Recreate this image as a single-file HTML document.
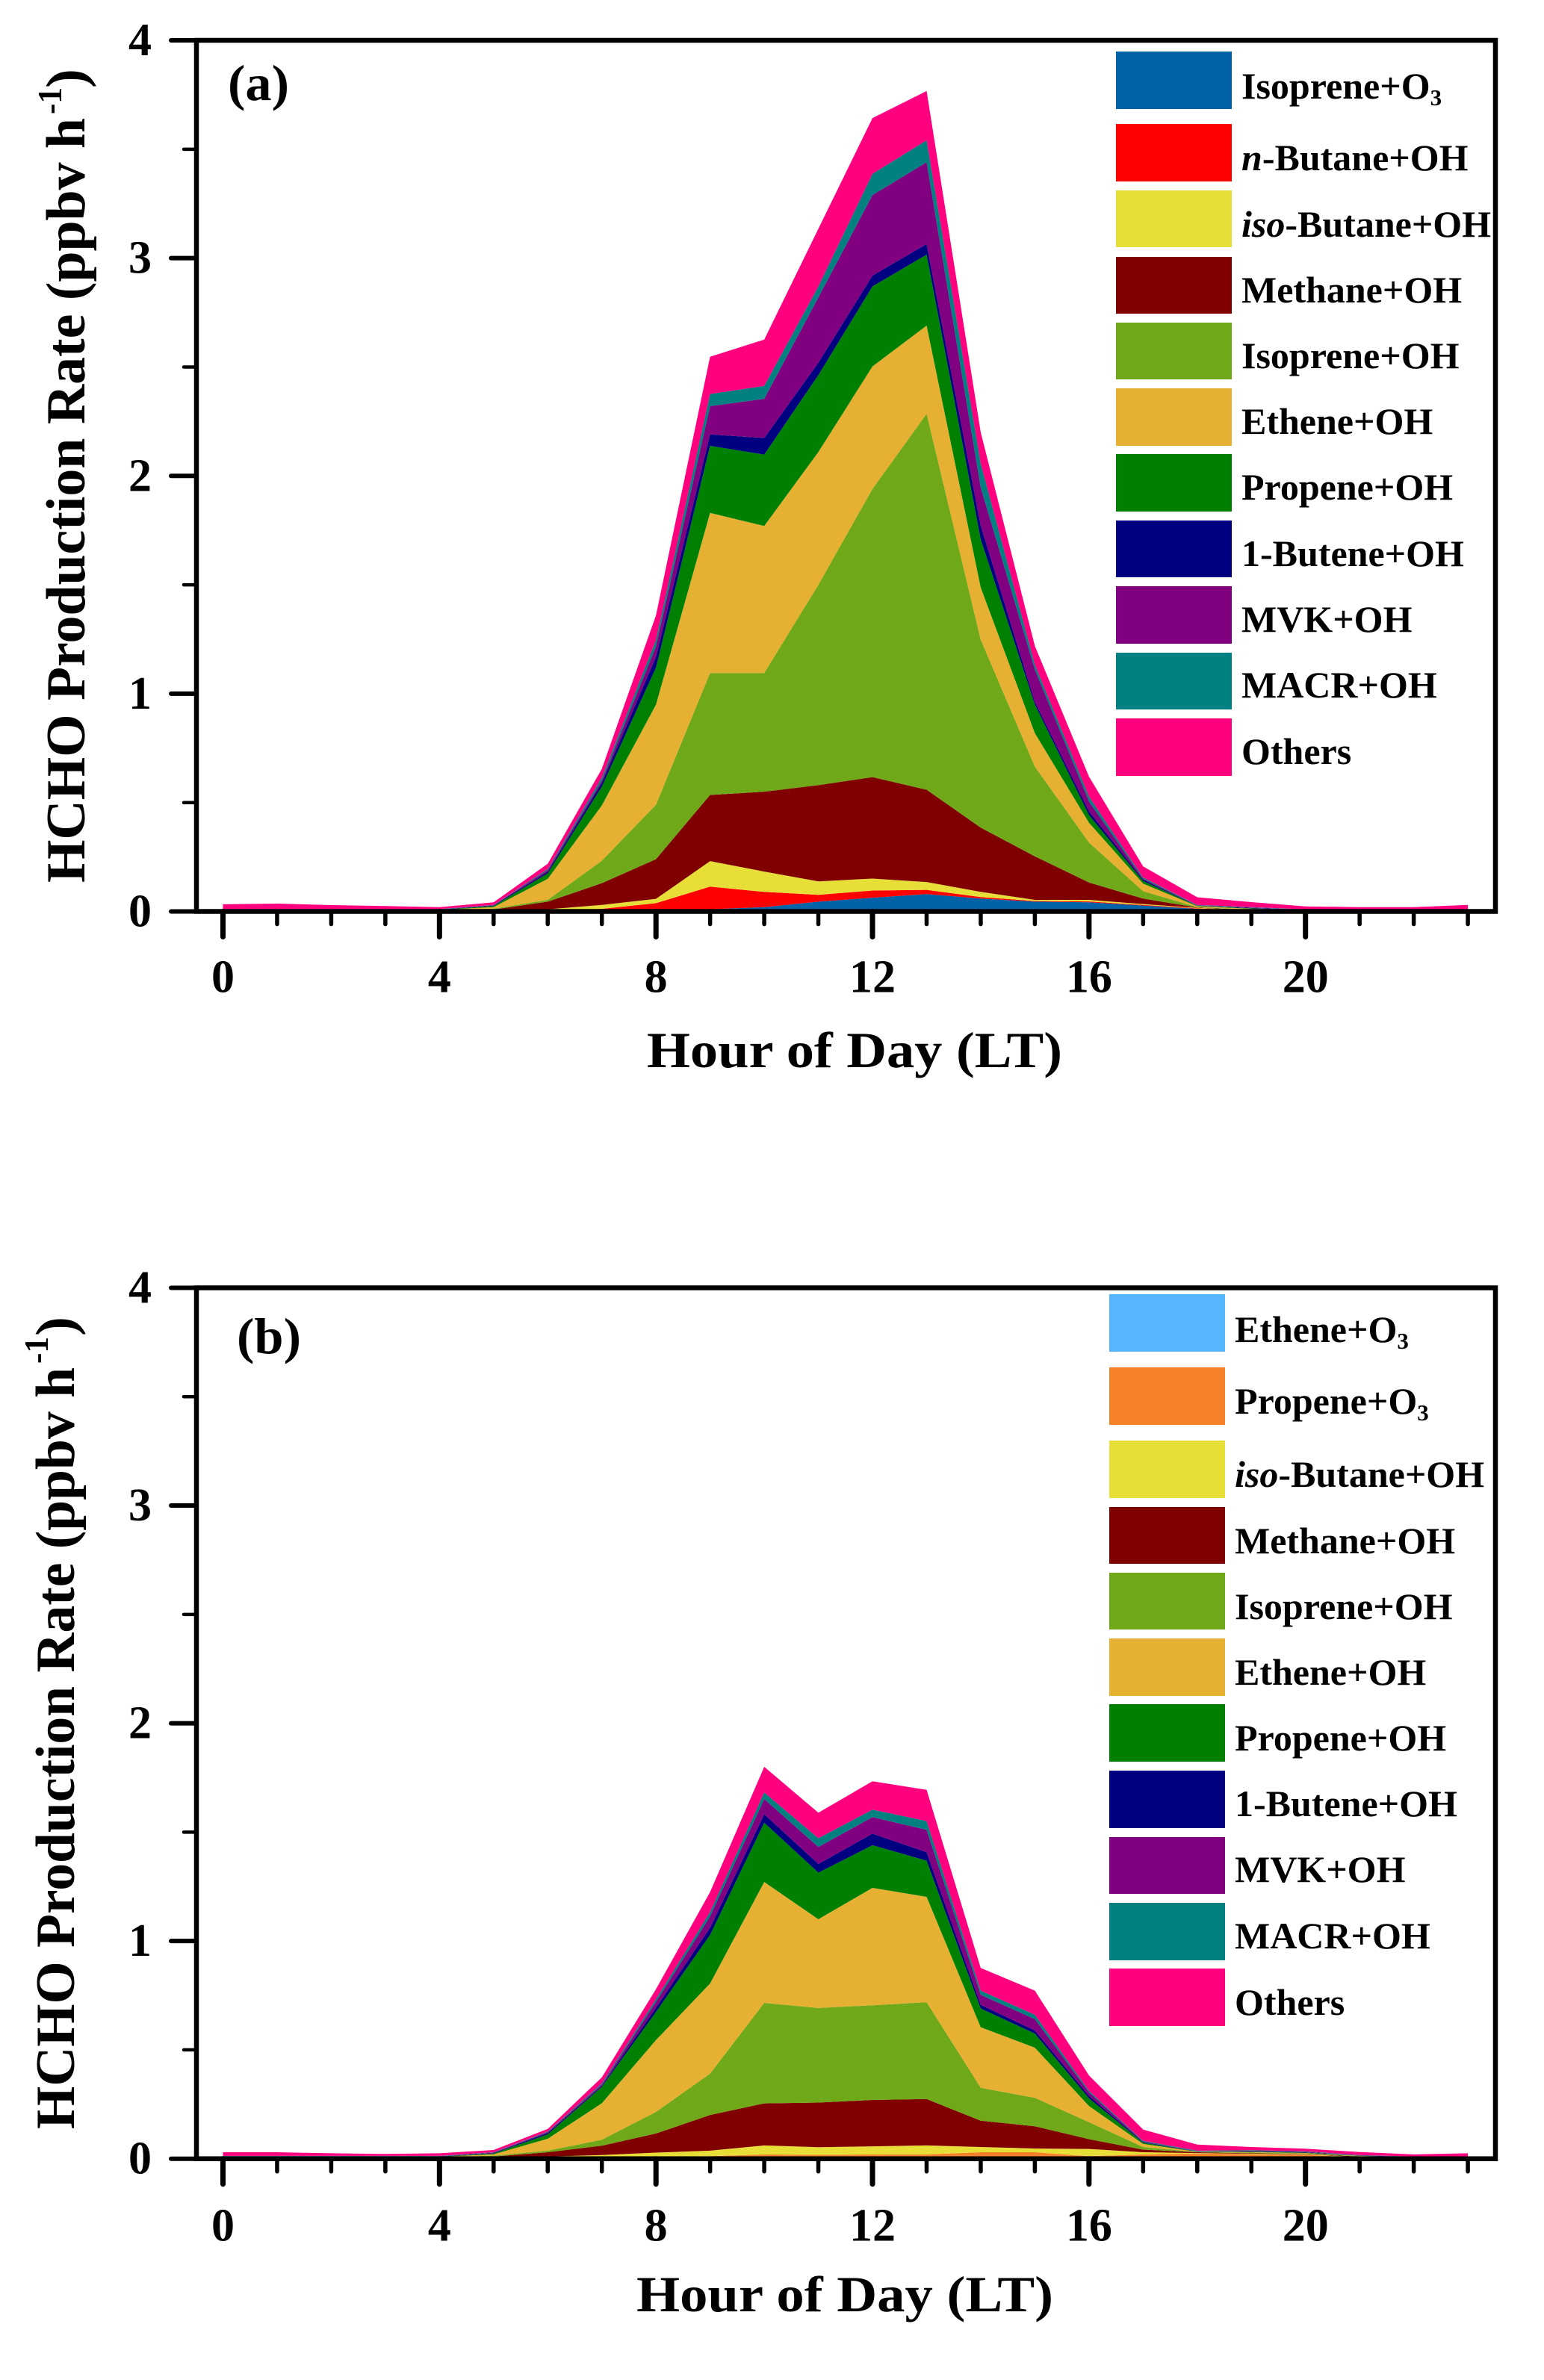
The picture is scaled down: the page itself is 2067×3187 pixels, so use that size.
<!DOCTYPE html>
<html lang="en">
<head>
<meta charset="utf-8">
<title>HCHO Production Rate</title>
<style>
html,body{margin:0;padding:0;background:#fff;}
svg{display:block;}
text{font-family:"Liberation Serif",serif;font-weight:bold;fill:#000;}
.lg{font-size:50px;}
.sub{font-size:31px;}
.it{font-style:italic;}
</style>
</head>
<body>
<svg id="figure" xmlns="http://www.w3.org/2000/svg" width="2067" height="3187" viewBox="0 0 2067 3187">
<rect x="0" y="0" width="2067" height="3187" fill="#fff"/>
<g id="panel-a"></g>
<g id="panel-b"></g>

<g>
<text x="305" y="134" font-size="68" textLength="82" lengthAdjust="spacingAndGlyphs">(a)</text>
<text x="866" y="1429" font-size="68" textLength="556" lengthAdjust="spacingAndGlyphs">Hour of Day (LT)</text>
<text transform="translate(113,1182) rotate(-90)" font-size="74" textLength="1024" lengthAdjust="spacingAndGlyphs">HCHO Production Rate (ppbv h</text>
<text transform="translate(82,153) rotate(-90)" font-size="46" textLength="36" lengthAdjust="spacingAndGlyphs">-1</text>
<text transform="translate(113,118) rotate(-90)" font-size="74" textLength="26" lengthAdjust="spacingAndGlyphs">)</text>
</g>

<g>
<g><rect x="1494" y="69" width="155" height="77" fill="#0063A8"/><text class="lg" x="1662" y="132">Isoprene+O<tspan class="sub" dy="9">3</tspan></text></g>
<g><rect x="1494" y="166" width="155" height="77" fill="#FF0000"/><text class="lg" x="1662" y="228"><tspan class="it">n</tspan>-Butane+OH</text></g>
<g><rect x="1494" y="255" width="155" height="76" fill="#E8DE38"/><text class="lg" x="1662" y="317"><tspan class="it">iso</tspan>-Butane+OH</text></g>
<g><rect x="1494" y="344" width="155" height="76" fill="#800000"/><text class="lg" x="1662" y="405">Methane+OH</text></g>
<g><rect x="1494" y="432" width="155" height="76" fill="#6FA818"/><text class="lg" x="1662" y="493">Isoprene+OH</text></g>
<g><rect x="1494" y="520" width="155" height="77" fill="#E6B033"/><text class="lg" x="1662" y="581">Ethene+OH</text></g>
<g><rect x="1494" y="608" width="155" height="77" fill="#008000"/><text class="lg" x="1662" y="669">Propene+OH</text></g>
<g><rect x="1494" y="697" width="155" height="76" fill="#000080"/><text class="lg" x="1662" y="758">1-Butene+OH</text></g>
<g><rect x="1494" y="785" width="155" height="77" fill="#800080"/><text class="lg" x="1662" y="846">MVK+OH</text></g>
<g><rect x="1494" y="874" width="155" height="76" fill="#008080"/><text class="lg" x="1662" y="934">MACR+OH</text></g>
<g><rect x="1494" y="962" width="155" height="77" fill="#FF007F"/><text class="lg" x="1662" y="1023">Others</text></g>
</g>

<g>
<text x="317" y="1812" font-size="68" textLength="86" lengthAdjust="spacingAndGlyphs">(b)</text>
<text x="852" y="3095" font-size="68" textLength="558" lengthAdjust="spacingAndGlyphs">Hour of Day (LT)</text>
<text transform="translate(99,2851) rotate(-90)" font-size="74" textLength="1020" lengthAdjust="spacingAndGlyphs">HCHO Production Rate (ppbv h</text>
<text transform="translate(64,1826) rotate(-90)" font-size="46" textLength="36" lengthAdjust="spacingAndGlyphs">-1</text>
<text transform="translate(99,1789) rotate(-90)" font-size="74" textLength="26" lengthAdjust="spacingAndGlyphs">)</text>
</g>

<g>
<g><rect x="1485" y="1733" width="155" height="77" fill="#55B5FF"/><text class="lg" x="1653" y="1797">Ethene+O<tspan class="sub" dy="9">3</tspan></text></g>
<g><rect x="1485" y="1831" width="155" height="77" fill="#F58228"/><text class="lg" x="1653" y="1893">Propene+O<tspan class="sub" dy="9">3</tspan></text></g>
<g><rect x="1485" y="1929" width="155" height="77" fill="#E8DE38"/><text class="lg" x="1653" y="1991"><tspan class="it">iso</tspan>-Butane+OH</text></g>
<g><rect x="1485" y="2018" width="155" height="76" fill="#800000"/><text class="lg" x="1653" y="2080">Methane+OH</text></g>
<g><rect x="1485" y="2106" width="155" height="76" fill="#6FA818"/><text class="lg" x="1653" y="2168">Isoprene+OH</text></g>
<g><rect x="1485" y="2194" width="155" height="77" fill="#E6B033"/><text class="lg" x="1653" y="2256">Ethene+OH</text></g>
<g><rect x="1485" y="2282" width="155" height="77" fill="#008000"/><text class="lg" x="1653" y="2344">Propene+OH</text></g>
<g><rect x="1485" y="2371" width="155" height="77" fill="#000080"/><text class="lg" x="1653" y="2432">1-Butene+OH</text></g>
<g><rect x="1485" y="2460" width="155" height="76" fill="#800080"/><text class="lg" x="1653" y="2520">MVK+OH</text></g>
<g><rect x="1485" y="2548" width="155" height="77" fill="#008080"/><text class="lg" x="1653" y="2609">MACR+OH</text></g>
<g><rect x="1485" y="2636" width="155" height="77" fill="#FF007F"/><text class="lg" x="1653" y="2698">Others</text></g>
</g>
</svg>

<script>
const hours = [0,1,2,3,4,5,6,7,8,9,10,11,12,13,14,15,16,17,18,19,20,21,22,23];
const xTickLabels = [0,4,8,12,16,20];
const yTickLabels = [0,1,2,3,4];

// Panel (a) – production rate of each pathway, ppbv/h
const aIsopreneO3 = [.001,.001,.001,.001,.001,.002,.002,.004,.01,.01,.02,.045,.063,.08,.059,.045,.042,.027,.012,.002,.001,.001,.001,.001];
const aNButane    = [.001,.001,.001,.001,.001,.001,.002,.008,.028,.104,.07,.031,.033,.019,.007,.003,.004,.003,.002,.001,.001,.001,.001,.001];
const aIsoButane  = [.001,.001,.001,.001,.001,.002,.006,.018,.02,.117,.093,.062,.055,.036,.024,.005,.007,.004,.002,.001,.001,.001,.001,.001];
const aMethane    = [.002,.002,.002,.002,.002,.004,.035,.1,.182,.304,.367,.442,.466,.424,.295,.2,.08,.025,.002,.002,.001,.001,.001,.001];
const aIsopreneOH = [.001,.001,.001,.001,.001,.004,.008,.103,.25,.56,.545,.92,1.323,1.726,.863,.412,.183,.034,.002,.003,.001,.001,.001,.001];
const aEthene     = [.001,.001,.001,.001,.001,.007,.097,.254,.46,.735,.675,.61,.563,.405,.24,.154,.091,.035,.004,.003,.001,.001,.001,.001];
const aPropene    = [.001,.001,.001,.001,.001,.005,.025,.086,.17,.308,.328,.353,.367,.326,.221,.131,.035,.012,.002,.002,.001,.001,.001,.001];
const aButene     = [.001,.001,.001,.001,.001,.002,.007,.017,.049,.052,.076,.057,.05,.049,.063,.012,.017,.006,.001,.002,.001,.001,.001,.001];
const aMVK        = [.001,.001,.001,.001,.001,.002,.008,.01,.048,.13,.18,.30,.369,.375,.175,.148,.046,.004,.001,.002,.001,.001,.001,.001];
const aMACR       = [.001,.001,.001,.001,.001,.001,.005,.015,.03,.056,.059,.05,.098,.101,.11,.023,.022,.006,.002,.002,.001,.001,.001,.001];
const aOthers     = [.022,.025,.018,.014,.009,.012,.024,.04,.113,.171,.213,.265,.256,.226,.143,.086,.092,.051,.035,.023,.013,.01,.01,.02];

// Panel (b)
const bEtheneO3   = [.001,.001,.001,.001,.001,.001,.001,.002,.002,.003,.006,.005,.005,.005,.004,.004,.002,.003,.005,.006,.006,.002,.001,.001];
const bPropeneO3  = [.002,.002,.002,.002,.002,.002,.003,.004,.006,.009,.014,.013,.015,.015,.026,.026,.01,.017,.019,.015,.012,.004,.001,.001];
const bIsoButane  = [.002,.002,.002,.002,.002,.003,.006,.011,.02,.025,.041,.035,.037,.041,.024,.017,.033,.01,.002,.002,.002,.002,.001,.001];
const bMethane    = [.002,.002,.002,.002,.002,.004,.02,.043,.088,.164,.193,.205,.213,.213,.121,.102,.045,.012,.004,.002,.002,.002,.001,.001];
const bIsopreneOH = [.001,.001,.001,.001,.001,.004,.007,.027,.099,.19,.462,.434,.435,.445,.151,.131,.078,.012,.001,.003,.002,.002,.001,.001];
const bEthene     = [.001,.001,.001,.001,.001,.006,.055,.168,.33,.414,.555,.408,.539,.484,.278,.23,.074,.014,.001,.003,.002,.001,.001,.001];
const bPropene    = [.001,.001,.001,.001,.001,.004,.02,.075,.129,.223,.272,.214,.196,.166,.086,.065,.035,.006,.001,.002,.002,.001,.001,.001];
const bButene     = [.001,.001,.001,.001,.001,.002,.006,.004,.02,.033,.039,.04,.053,.039,.017,.014,.011,.003,.001,.002,.002,.001,.001,.001];
const bMVK        = [.001,.001,.001,.001,.001,.002,.004,.006,.026,.052,.07,.078,.076,.103,.046,.052,.017,.002,.001,.002,.002,.001,.001,.001];
const bMACR       = [.001,.001,.001,.001,.001,.002,.003,.006,.013,.02,.03,.04,.034,.04,.019,.02,.007,.003,.002,.002,.002,.001,.001,.001];
const bOthers     = [.017,.017,.012,.009,.012,.01,.012,.028,.046,.092,.118,.117,.131,.143,.104,.111,.07,.052,.028,.015,.012,.014,.01,.015];

const NS = 'http://www.w3.org/2000/svg';

function make(tag, parent, attrs) {
  const el = document.createElementNS(NS, tag);
  for (const k in attrs) el.setAttribute(k, attrs[k]);
  parent.appendChild(el);
  return el;
}

function drawPanel(root, plot, series, colors, names) {
  const xAt = h => 298.5 + 72.46 * h;
  const yAt = v => plot.bottom - (plot.bottom - plot.top) * v / 4;

  // stacked areas
  const lower = hours.map(() => 0);
  series.forEach((values, i) => {
    const upper = values.map((v, k) => lower[k] + v);
    const pts = [];
    hours.forEach((h, k) => pts.push(xAt(h).toFixed(1) + ',' + yAt(upper[k]).toFixed(1)));
    for (let k = hours.length - 1; k >= 0; k--) pts.push(xAt(hours[k]).toFixed(1) + ',' + yAt(lower[k]).toFixed(1));
    const area = make('polygon', root, {points: pts.join(' '), fill: colors[i]});
    
    
    upper.forEach((u, k) => { lower[k] = u; });
  });

  // frame
  const frame = make('rect', root, {x: plot.left, y: plot.top, width: plot.right - plot.left, height: plot.bottom - plot.top, fill: 'none', stroke: '#000', 'stroke-width': 6.5});
  
  

  // y ticks (major and half-unit minor)
  for (let v = 0; v <= 4; v += 0.5) {
    const major = Number.isInteger(v);
    const tick = make('line', root, {x1: major ? 229 : 246, x2: plot.left, y1: yAt(v), y2: yAt(v), stroke: '#000', 'stroke-width': major ? 6 : 4.5, 'stroke-linecap': 'round'});
    
    
  }
  yTickLabels.forEach(v => {
    const t = make('text', root, {x: 187.5, y: yAt(v) + 20, 'text-anchor': 'middle', 'font-size': 62});
    t.textContent = v;
    
    
  });

  // x ticks
  hours.forEach(h => {
    const major = h % 4 === 0 && h <= 20;
    const tick = make('line', root, {x1: xAt(h), x2: xAt(h), y1: plot.bottom, y2: plot.bottom + (major ? 34 : 17), stroke: '#000', 'stroke-width': major ? 7 : 5.5, 'stroke-linecap': 'round'});
    
    
  });
  xTickLabels.forEach(h => {
    const t = make('text', root, {x: xAt(h), y: plot.bottom + plot.labelGap, 'text-anchor': 'middle', 'font-size': 62});
    t.textContent = h;
    
    
  });
}

drawPanel(document.getElementById('panel-a'),
  {left: 263, right: 2002, top: 54, bottom: 1220.5, labelGap: 108},
  [aIsopreneO3, aNButane, aIsoButane, aMethane, aIsopreneOH, aEthene, aPropene, aButene, aMVK, aMACR, aOthers],
  ['#0063A8','#FF0000','#E8DE38','#800000','#6FA818','#E6B033','#008000','#000080','#800080','#008080','#FF007F'],
  ['isoprene-o3','n-butane-oh','iso-butane-oh','methane-oh','isoprene-oh','ethene-oh','propene-oh','1-butene-oh','mvk-oh','macr-oh','others']);

drawPanel(document.getElementById('panel-b'),
  {left: 263, right: 2002, top: 1724.5, bottom: 2890.7, labelGap: 110},
  [bEtheneO3, bPropeneO3, bIsoButane, bMethane, bIsopreneOH, bEthene, bPropene, bButene, bMVK, bMACR, bOthers],
  ['#55B5FF','#F58228','#E8DE38','#800000','#6FA818','#E6B033','#008000','#000080','#800080','#008080','#FF007F'],
  ['ethene-o3','propene-o3','iso-butane-oh','methane-oh','isoprene-oh','ethene-oh','propene-oh','1-butene-oh','mvk-oh','macr-oh','others']);
</script>
</body>
</html>
